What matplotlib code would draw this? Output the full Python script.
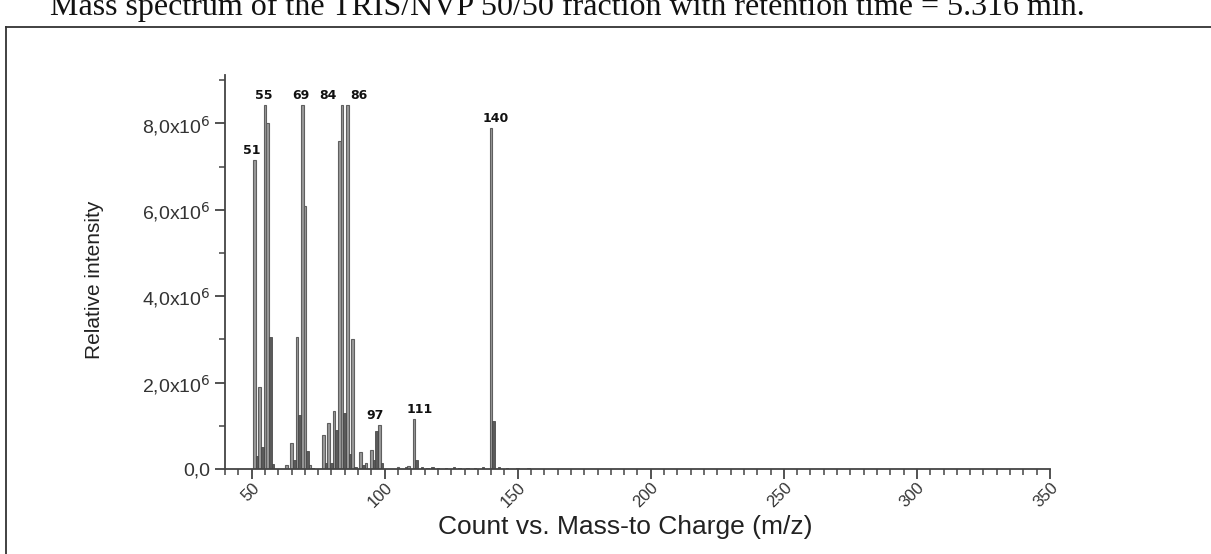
import matplotlib
matplotlib.use("Agg")
import matplotlib.pyplot as plt
from matplotlib.lines import Line2D
from matplotlib.ticker import MultipleLocator, FuncFormatter

# spectrum (m/z, intensity)
mz_main = [51, 53, 55, 56, 63, 65, 67, 69, 70, 72, 77, 79, 81, 83, 84, 86, 88,
           91, 93, 95, 98, 105, 109, 111, 140]
int_main = [7.15e6, 1.9e6, 8.42e6, 8.0e6, 0.1e6, 0.6e6, 3.06e6, 8.42e6, 6.08e6,
            0.1e6, 0.78e6, 1.07e6, 1.35e6, 7.6e6, 8.42e6, 8.42e6, 3.0e6,
            0.4e6, 0.15e6, 0.45e6, 1.02e6, 0.05e6, 0.08e6, 1.16e6, 7.9e6]

mz_sub = [52, 54, 57, 58, 66, 68, 71, 73, 78, 80, 82, 85, 87, 89, 92, 96, 97,
          99, 108, 112, 114, 116, 118, 120, 123, 126, 128, 131, 134, 137, 141,
          143, 146, 150, 154]
int_sub = [0.3e6, 0.5e6, 3.06e6, 0.12e6, 0.2e6, 1.25e6, 0.42e6, 0.03e6, 0.15e6,
           0.15e6, 0.9e6, 1.3e6, 0.35e6, 0.05e6, 0.1e6, 0.2e6, 0.88e6,
           0.15e6, 0.05e6, 0.2e6, 0.04e6, 0.03e6, 0.04e6, 0.03e6, 0.03e6,
           0.04e6, 0.03e6, 0.03e6, 0.03e6, 0.04e6, 1.1e6,
           0.04e6, 0.03e6, 0.03e6, 0.02e6]

peak_labels = ["51", "55", "69", "84", "86", "97", "111", "140"]
peak_mz = [51, 55, 69, 84, 86, 98, 111, 140]
label_dx = [-2, -1, -1, -10, 8, -3, 4, 3]   # points

x_ticks = [50, 100, 150, 200, 250, 300, 350]

title = "Mass spectrum of the TRIS/NVP 50/50 fraction with retention time = 5.316 min."


def ytick_fmt(v, pos):
    if v == 0:
        return "0,0"
    return f"{v/1e6:.1f}".replace(".", ",") + r"x10$^{6}$"


def main():
    plt.rcParams['font.family'] = ['Liberation Sans', 'DejaVu Sans']
    fig = plt.figure(figsize=(12.11, 5.54), dpi=100)

    # title line (cut off at the top in the original) and frame
    fig.text(0.041, 1 - 15 / 554, title, family='Liberation Serif', fontsize=23,
             ha='left', va='baseline', color='#111111')
    fig.add_artist(Line2D([6 / 1211, 1.0], [1 - 27 / 554] * 2, color='#333333', lw=1.3))
    fig.add_artist(Line2D([6 / 1211] * 2, [0.0, 1 - 27 / 554], color='#333333', lw=1.3))

    ax = fig.add_axes([225 / 1211, 1 - 469 / 554, 825 / 1211, 394 / 554])
    ax.bar(mz_main, int_main, width=1.0, color='#9a9a9a', edgecolor='#5f5f5f', lw=0.8)
    ax.bar(mz_sub, int_sub, width=1.0, color='#5a5a5a', edgecolor='#4a4a4a', lw=0.6)

    heights = dict(zip(mz_main + mz_sub, int_main + int_sub))
    for txt, m, dx in zip(peak_labels, peak_mz, label_dx):
        ax.annotate(txt, (m, heights[m]), xytext=(dx, 2), textcoords='offset points',
                    ha='center', va='bottom', fontsize=9, fontweight='bold',
                    family='DejaVu Sans', color='#111111')

    ax.set_xticks(x_ticks)
    ax.xaxis.set_minor_locator(MultipleLocator(5))
    ax.yaxis.set_major_locator(MultipleLocator(2e6))
    ax.yaxis.set_minor_locator(MultipleLocator(1e6))
    ax.yaxis.set_major_formatter(FuncFormatter(ytick_fmt))
    ax.set_xlim(40, 350)
    ax.set_ylim(0, 9.12e6)
    for s in ['top', 'right']:
        ax.spines[s].set_visible(False)
    for s in ['left', 'bottom']:
        ax.spines[s].set_color('#444444')
        ax.spines[s].set_linewidth(1.3)

    ax.tick_params(which='major', length=7, width=1.3, color='#444444',
                   labelsize=14, labelcolor='#333333')
    ax.tick_params(axis='x', which='major', pad=1, labelsize=12)
    ax.tick_params(which='minor', length=4, width=1.1, color='#444444')
    plt.setp(ax.get_xticklabels(), rotation=45, ha='right', rotation_mode='anchor')

    ax.set_ylabel('Relative intensity', fontsize=15, color='#222222')
    ax.yaxis.set_label_coords(-0.147, 0.48)
    ax.set_xlabel('Count vs. Mass-to Charge (m/z)', fontsize=19, color='#222222')
    ax.xaxis.set_label_coords(0.485, -0.118)

    fig.savefig('out.png', dpi=100)


if __name__ == '__main__':
    main()
